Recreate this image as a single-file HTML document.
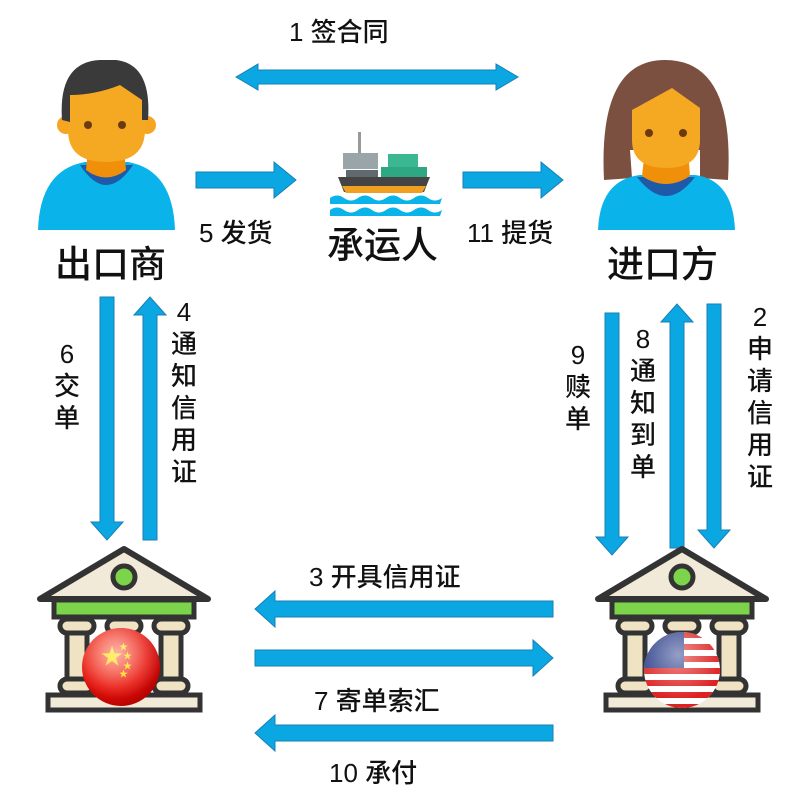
<!DOCTYPE html>
<html><head><meta charset="utf-8"><style>
html,body{margin:0;padding:0;background:#fff;width:789px;height:802px;overflow:hidden}
svg text{font-family:"Liberation Sans","Noto Sans CJK SC",sans-serif;fill:#111}
</style></head><body>
<svg width="789" height="802" viewBox="0 0 789 802" xmlns="http://www.w3.org/2000/svg">
<defs>
<radialGradient id="cn" cx="40%" cy="35%" r="70%"><stop offset="0" stop-color="#ff6a50"/><stop offset="0.6" stop-color="#e8140c"/><stop offset="1" stop-color="#b00000"/></radialGradient>
<radialGradient id="gl" cx="45%" cy="30%" r="60%"><stop offset="0" stop-color="#fff" stop-opacity="0.5"/><stop offset="1" stop-color="#fff" stop-opacity="0"/></radialGradient>
<clipPath id="usc"><circle cx="682" cy="670" r="38"/></clipPath>
<g id="bank">
<polygon points="0,54 84,4 168,54" fill="#f1ead8" stroke="#333" stroke-width="6" stroke-linejoin="round"/>
<circle cx="84" cy="32" r="11" fill="#7bd44a" stroke="#333" stroke-width="5"/>
<rect x="14" y="55" width="140" height="17" fill="#7bd44a" stroke="#333" stroke-width="5"/>
<rect x="20" y="74" width="34" height="14" rx="7" fill="#efe3c3" stroke="#333" stroke-width="5"/>
<rect x="67" y="74" width="34" height="14" rx="7" fill="#efe3c3" stroke="#333" stroke-width="5"/>
<rect x="114" y="74" width="34" height="14" rx="7" fill="#efe3c3" stroke="#333" stroke-width="5"/>
<rect x="27" y="88" width="20" height="46" fill="#efe3c3" stroke="#333" stroke-width="5"/>
<rect x="121" y="88" width="20" height="46" fill="#efe3c3" stroke="#333" stroke-width="5"/>
<rect x="20" y="134" width="34" height="14" rx="7" fill="#efe3c3" stroke="#333" stroke-width="5"/>
<rect x="114" y="134" width="34" height="14" rx="7" fill="#efe3c3" stroke="#333" stroke-width="5"/>
<rect x="8" y="150" width="152" height="15" fill="#f1ead8" stroke="#333" stroke-width="5"/>
</g>
</defs>
<g fill="#0aa7e2" stroke="#1a7fb5" stroke-width="1">
<polygon points="236,77 258,64 258,70 496,70 496,64 518,77 496,90 496,84 258,84 258,90"/>
<polygon points="196,172 274,172 274,162 296,180 274,198 274,188 196,188"/>
<polygon points="463,172 541,172 541,162 563,180 541,198 541,188 463,188"/>
<polygon points="100,297 114,297 114,522 123,522 107,540 91,522 100,522"/>
<polygon points="143,540 157,540 157,315 166,315 150,297 134,315 143,315"/>
<polygon points="605,313 619,313 619,537 628,537 612,555 596,537 605,537"/>
<polygon points="670,548 684,548 684,322 693,322 677,304 661,322 670,322"/>
<polygon points="707,304 721,304 721,530 730,530 714,548 698,530 707,530"/>
<polygon points="553,601 275,601 275,591 255,609 275,627 275,617 553,617"/>
<polygon points="255,650 533,650 533,640 553,658 533,676 533,666 255,666"/>
<polygon points="553,725 275,725 275,715 255,733 275,751 275,741 553,741"/>
</g>
<!-- man -->
<g>
<path d="M38,230 Q40,170 85,162 L128,162 Q173,170 175,230 Z" fill="#0ab4ea"/>
<path d="M80,165 Q106,205 133,165 Z" fill="#1e5aa8"/>
<path d="M88,150 L124,150 L126,170 Q106,185 86,170 Z" fill="#f0900a"/>
<circle cx="66" cy="125" r="9" fill="#f5a522"/><circle cx="147" cy="125" r="9" fill="#f5a522"/>
<path d="M68,95 Q68,80 106,80 Q145,80 145,95 L145,130 Q145,162 106,162 Q68,162 68,130 Z" fill="#f5a822"/>
<path d="M62,120 Q58,62 100,60 L116,60 Q152,64 148,120 L142,120 L142,100 L120,85 Q95,95 70,95 L70,122 Z" fill="#3a3a3a"/>
<circle cx="88" cy="125" r="4" fill="#6b3a10"/><circle cx="122" cy="125" r="4" fill="#6b3a10"/>
</g>
<!-- woman -->
<g>
<path d="M604,180 Q598,60 665,60 Q735,60 728,180 L700,178 L700,150 L630,150 L632,178 Z" fill="#7b5040"/>
<path d="M598,230 Q600,180 640,175 L695,175 Q733,180 735,230 Z" fill="#0ab4ea"/>
<path d="M637,177 Q666,215 695,177 Z" fill="#1e5aa8"/>
<path d="M645,150 L688,150 L690,176 Q666,192 642,176 Z" fill="#f0900a"/>
<path d="M632,110 L672,88 L700,108 L700,140 Q700,168 666,168 Q632,168 632,140 Z" fill="#f5a822"/>
<circle cx="649" cy="133" r="4" fill="#6b3a10"/><circle cx="683" cy="133" r="4" fill="#6b3a10"/>
</g>
<!-- ship -->
<g>
<rect x="358" y="132" width="3" height="22" fill="#999"/>
<rect x="343" y="153" width="35" height="16" fill="#9aa5aa"/>
<rect x="346" y="170" width="32" height="10" fill="#606a6e"/>
<rect x="388" y="154" width="30" height="13" fill="#3bb892"/>
<rect x="381" y="167" width="46" height="13" fill="#2ea882"/>
<path d="M338,177 L430,177 L424,192 L344,192 Z" fill="#444"/>
<path d="M342,186 L426,186 L422,193 L346,193 Z" fill="#f0a020"/>
<path d="M330,198 q7,-5 14,0 q7,5 14,0 q7,-5 14,0 q7,5 14,0 q7,-5 14,0 q7,5 14,0 q7,-5 14,0 q7,5 14,0 L440,204 L330,204Z" fill="#0ab4ea"/>
<path d="M330,210 q7,-5 14,0 q7,5 14,0 q7,-5 14,0 q7,5 14,0 q7,-5 14,0 q7,5 14,0 q7,-5 14,0 q7,5 14,0 L440,216 L330,216Z" fill="#0ab4ea"/>
</g>
<use href="#bank" x="40" y="545"/>
<use href="#bank" x="598" y="545"/>
<circle cx="121" cy="667" r="39" fill="url(#cn)"/>
<text x="101" y="664" font-size="22" style="fill:#ffe000">★</text>
<text x="119" y="650" font-size="9" style="fill:#ffe000">★</text>
<text x="123" y="659" font-size="9" style="fill:#ffe000">★</text>
<text x="123" y="669" font-size="9" style="fill:#ffe000">★</text>
<text x="119" y="677" font-size="9" style="fill:#ffe000">★</text>
<circle cx="121" cy="667" r="39" fill="url(#gl)"/>
<g clip-path="url(#usc)">
<rect x="640" y="630" width="90" height="80" fill="#fff"/>
<rect x="640" y="632" width="90" height="6" fill="#d22"/><rect x="640" y="644" width="90" height="6" fill="#d22"/>
<rect x="640" y="656" width="90" height="6" fill="#d22"/><rect x="640" y="668" width="90" height="6" fill="#d22"/>
<rect x="640" y="680" width="90" height="6" fill="#d22"/><rect x="640" y="692" width="90" height="6" fill="#d22"/>
<rect x="640" y="704" width="90" height="6" fill="#d22"/>
<rect x="640" y="630" width="44" height="38" fill="#2c3e8a"/>
</g>
<circle cx="682" cy="670" r="38" fill="url(#gl)"/>
<g font-size="26" font-weight="500">
<text x="289" y="41">1 签合同</text>
<text x="199" y="242">5 发货</text>
<text x="467" y="242">11 提货</text>
<text x="309" y="586">3 开具信用证</text>
<text x="314" y="710">7 寄单索汇</text>
<text x="329" y="782">10 承付</text>
</g>
<g font-size="37" font-weight="500">
<text x="55" y="277">出口商</text>
<text x="327" y="258">承运人</text>
<text x="607" y="277">进口方</text>
</g>
<g font-size="26" font-weight="500" text-anchor="middle">
<text x="67" y="363">6</text><text x="67" y="395">交</text><text x="67" y="427">单</text>
<text x="184" y="321">4</text><text x="184" y="353">通</text><text x="184" y="385">知</text><text x="184" y="417">信</text><text x="184" y="449">用</text><text x="184" y="481">证</text>
<text x="578" y="364">9</text><text x="578" y="396">赎</text><text x="578" y="428">单</text>
<text x="643" y="348">8</text><text x="643" y="380">通</text><text x="643" y="412">知</text><text x="643" y="444">到</text><text x="643" y="476">单</text>
<text x="760" y="326">2</text><text x="760" y="358">申</text><text x="760" y="390">请</text><text x="760" y="422">信</text><text x="760" y="454">用</text><text x="760" y="486">证</text>
</g>
</svg>
</body></html>
